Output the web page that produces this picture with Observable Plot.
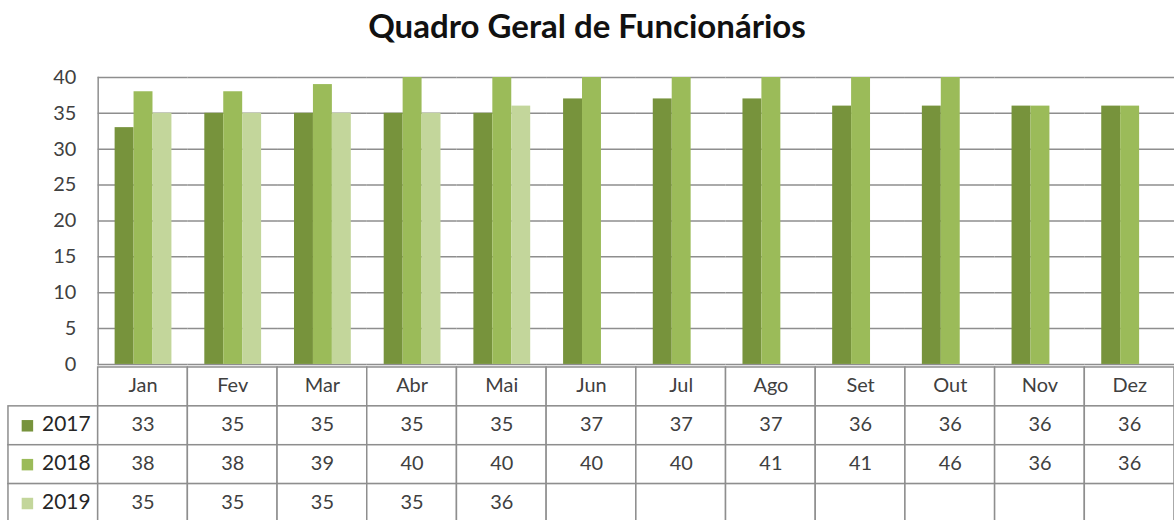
<!DOCTYPE html>
<html><head><meta charset="utf-8">
<script src="https://cdn.jsdelivr.net/npm/d3@7"></script>
<script src="https://cdn.jsdelivr.net/npm/@observablehq/plot@0.6"></script>
<style>
html,body{margin:0;padding:0;width:1174px;height:520px;overflow:hidden;background:#fff;font-family:Lato,"Open Sans",sans-serif}
#title{position:absolute;left:0;top:0;width:1174px;text-align:center;font-weight:bold;font-size:33px;line-height:50px;color:#111}
#table{position:absolute;left:0;top:363px}
#chart{position:absolute;left:0;top:50px}
</style></head><body>
<div id="title">Quadro Geral de Funcionários</div>
<div id="table"></div>
<div id="chart"></div>
<script>
const months = ["Jan","Fev","Mar","Abr","Mai","Jun","Jul","Ago","Set","Out","Nov","Dez"];
const years = ["2017","2018","2019"];
const v2017 = [33,35,35,35,35,37,37,37,36,36,36,36];
const v2018 = [38,38,39,40,40,40,40,41,41,46,36,36];
const v2019 = [35,35,35,35,36,null,null,null,null,null,null,null];
const colors = ["#77933c","#9bbb59","#c3d69b"];
const yTicks = [0,5,10,15,20,25,30,35,40];

const series = [v2017, v2018, v2019];
const rows = years.flatMap((yr, i) => months.map((m, j) => ({month: m, year: yr, value: series[i][j]})))
  .filter(d => d.value != null);

const gridColor = "#8e8e8e";

const chart = Plot.plot({
  width: 1178, height: 330,
  marginTop: 27, marginBottom: 15, marginLeft: 97, marginRight: 0,
  style: {fontFamily: "Lato, 'Open Sans', sans-serif", fontSize: "20px", color: "#404040", background: "transparent", overflow: "visible"},
  fx: {domain: months, padding: 0, axis: null},
  x: {domain: years, paddingInner: 0, paddingOuter: 0.78, axis: null},
  y: {domain: [0, 40], axis: null},
  color: {domain: years, range: colors},
  marks: [
    Plot.gridY(yTicks, {stroke: gridColor, strokeOpacity: 1, strokeWidth: 1.5}),
    Plot.barY(rows, {fx: "month", x: "year", y: "value", fill: "year", clip: true}),
    Plot.frame({anchor: "left", stroke: gridColor, strokeWidth: 1.5, facetAnchor: "left"}),
    Plot.axisY(yTicks, {tickSize: 0, tickPadding: 22, fill: "#404040", label: null, fontSize: 20})
  ]
});
document.getElementById("chart").appendChild(chart);

const cols = [" ", ...months];
const rowKeys = ["h", ...years];
const cells = [
  ...months.map(m => ({col: m, row: "h", text: m})),
  ...years.flatMap((yr, i) => [
    {col: " ", row: yr, text: ""},
    ...months.map((m, j) => ({col: m, row: yr, text: series[i][j] == null ? "" : String(series[i][j])}))
  ])
];

const table = Plot.plot({
  width: 1178, height: 161,
  marginTop: 2, marginBottom: 0, marginLeft: 7, marginRight: 0,
  style: {fontFamily: "Lato, 'Open Sans', sans-serif", fontSize: "20px", color: "#404040", background: "transparent", overflow: "visible"},
  x: {domain: cols, padding: 0, axis: null},
  y: {domain: rowKeys, padding: 0, axis: null},
  color: {domain: years, range: colors},
  marks: [
    Plot.cell(cells, {x: "col", y: "row", fill: "white", stroke: gridColor, strokeWidth: 1.5}),
    Plot.text(cells, {x: "col", y: "row", text: "text", fill: "#404040", fontSize: 20, dy: -1}),
    Plot.dot(years, {x: () => " ", y: d => d, symbol: "square", r: 6.5, fill: d => d, dx: -26}),
    Plot.text(years, {x: () => " ", y: d => d, text: d => d, dx: 13, fill: "#262626", fontSize: 21, dy: -1})
  ]
});
document.getElementById("table").appendChild(table);
</script>
</body></html>
